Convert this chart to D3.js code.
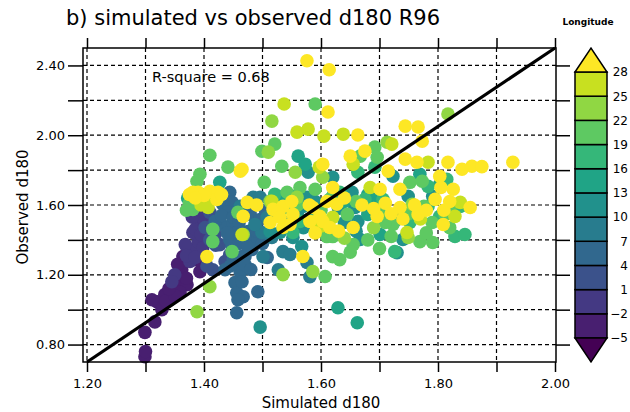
<!DOCTYPE html>
<html lang="en">
<head>
    <meta charset="UTF-8">
    <title>simulated vs observed d180 R96</title>
    <script src="https://d3js.org/d3.v7.min.js"></script>
    <style>
        body { margin: 0; background: #fff; }
        svg { display: block; font-family: "DejaVu Sans", sans-serif; }
    </style>
</head>
<body>
    <svg id="chart" width="630" height="412"></svg>

    <script>
        // Colour levels of the longitude bar
        const lonLevels = [-5, -2, 1, 4, 7, 10, 13, 16, 19, 22, 25, 28];

        // Points [simulated, observed], grouped by longitude band
        const lon_m3 = [[1.299,0.73],[1.30,0.76],[1.299,0.87],[1.316,0.93],[1.32,1.045],[1.328,1.00],[1.342,1.057],
            [1.311,1.057],[1.359,1.155],[1.371,1.143],[1.362,1.229],[1.393,1.218],[1.364,1.304],[1.388,1.287],
            [1.359,1.10],[1.333,1.086],[1.335,1.05],[1.35,1.08],[1.34,1.12],[1.37,1.18],[1.355,1.26]];
        const lon_0 = [[1.38,1.345],[1.39,1.39],[1.381,1.442],[1.39,1.506],[1.368,1.373],[1.385,1.46],[1.376,1.276],
            [1.398,1.356],[1.393,1.546],[1.385,1.575],[1.40,1.47],[1.395,1.43],[1.37,1.31],[1.385,1.30],
            [1.40,1.52],[1.38,1.53],[1.35,1.20],[1.345,1.16]];
        const lon_2 = [[1.41,1.402],[1.402,1.471],[1.419,1.431],[1.41,1.558],[1.427,1.373],[1.436,1.276],[1.415,1.229],
            [1.444,1.316],[1.42,1.37],[1.405,1.25]];
        const lon_5 = [[1.444,1.673],[1.432,1.604],[1.448,1.615],[1.441,1.558],[1.441,1.477],[1.458,1.448],[1.475,1.448],
            [1.448,1.362],[1.465,1.304],[1.47,1.304],[1.456,1.27],[1.462,1.212],[1.453,1.155],[1.456,1.097],
            [1.467,1.074],[1.458,1.057],[1.492,1.103],[1.456,0.982],[1.482,1.345],[1.47,1.258],[1.444,1.402],
            [1.427,1.488],[1.479,1.546],[1.496,1.517],[1.487,1.402],[1.508,1.299],[1.436,1.229],[1.419,1.506],
            [1.43,1.54],[1.45,1.53],[1.46,1.50],[1.47,1.42],[1.49,1.45],[1.44,1.44],[1.46,1.38],[1.45,1.29],
            [1.475,1.36],[1.465,1.16],[1.48,1.23],[1.445,1.25],[1.50,1.38],[1.505,1.57]];
        const lon_8 = [[1.484,1.644],[1.496,1.644],[1.508,1.529],[1.499,1.442],[1.516,1.414],[1.501,1.304],[1.527,1.229],
            [1.535,1.333],[1.547,1.316],[1.576,1.27],[1.581,1.189],[1.487,1.488],[1.462,1.592]];
        const lon_11 = [[1.496,0.90],[1.567,1.362],[1.53,1.442],[1.552,1.414],[1.513,1.448],[1.578,1.788],[1.569,1.592],
            [1.576,1.644],[1.658,1.586],[1.653,1.673],[1.667,1.402],[1.663,1.506],[1.723,1.765],[1.749,1.65],
            [1.791,1.65],[1.73,1.517],[1.73,1.327],[1.74,1.402],[1.62,1.759],[1.526,1.65],[1.52,1.55],[1.54,1.50],
            [1.56,1.56],[1.59,1.62],[1.57,1.47],[1.60,1.45],[1.63,1.58],[1.64,1.50],[1.66,1.45]];
        const lon_14 = [[1.629,1.011],[1.662,0.925],[1.538,1.615],[1.55,1.65],[1.427,1.73],[1.692,1.632],[1.68,1.546],
            [1.803,1.719],[1.769,1.776],[1.701,1.431],[1.561,1.88],[1.573,1.834],[1.58,1.52],[1.62,1.65],
            [1.64,1.62],[1.68,1.66],[1.372,1.64]];
        const lon_17 = [[1.542,1.586],[1.564,1.506],[1.552,1.442],[1.632,1.673],[1.706,1.632],[1.726,1.333],[1.692,1.817],
            [1.663,1.788],[1.783,1.707],[1.838,1.592],[1.783,1.592],[1.752,1.50],[1.803,1.535],[1.815,1.747],
            [1.829,1.42],[1.846,1.431],[1.521,1.661],[1.675,1.632]];
        const lon_20 = [[1.393,1.776],[1.388,1.736],[1.381,1.575],[1.415,1.46],[1.415,1.39],[1.441,1.817],[1.41,1.885],
            [1.499,1.908],[1.59,2.179],[1.521,1.949],[1.533,1.822],[1.542,1.673],[1.564,1.70],[1.61,1.419],
            [1.62,1.419],[1.607,1.19],[1.62,1.304],[1.632,1.287],[1.655,1.373],[1.692,1.932],[1.696,1.874],
            [1.667,1.88],[1.752,1.73],[1.773,1.736],[1.776,1.592],[1.821,1.586],[1.791,1.385],[1.769,1.39],
            [1.723,1.488],[1.645,1.546],[1.458,1.558],[1.448,1.333],[1.503,1.73],[1.59,1.69],[1.615,1.632],
            [1.812,1.546],[1.375,1.61],[1.37,1.57],[1.56,1.60],[1.60,1.57],[1.66,1.62],[1.70,1.56],[1.71,1.50],
            [1.72,1.42],[1.68,1.40],[1.65,1.33],[1.70,1.35],[1.75,1.55],[1.79,1.50],[1.78,1.44],[1.82,1.47]];
        const lon_23 = [[1.51,1.903],[1.516,2.081],[1.713,1.96],[1.513,1.621],[1.535,1.201],[1.586,1.218],[1.603,1.759],
            [1.559,1.644],[1.467,1.431],[1.41,1.132],[1.388,0.988],[1.756,1.604],[1.749,1.414],[1.817,2.122],
            [1.556,1.788],[1.69,1.47],[1.64,1.41]];
        const lon_26 = [[1.537,2.179],[1.559,2.018],[1.578,2.035],[1.605,1.995],[1.638,2.006],[1.405,1.621],[1.407,1.586],
            [1.465,1.431],[1.516,1.621],[1.62,1.529],[1.684,1.70],[1.721,1.949],[1.783,1.845],[1.838,1.615],
            [1.829,1.535],[1.747,1.442],[1.655,1.834],[1.597,1.817],[1.395,1.60],[1.77,1.52],[1.60,1.48]];
        const lon_30 = [[1.576,2.427],[1.614,2.375],[1.612,2.133],[1.663,2.001],[1.465,1.805],[1.381,1.673],[1.41,1.678],
            [1.424,1.673],[1.39,1.673],[1.422,1.632],[1.474,1.615],[1.518,1.575],[1.535,1.592],[1.552,1.546],
            [1.467,1.535],[1.405,1.304],[1.527,1.558],[1.513,1.50],[1.462,1.794],[1.569,1.305],[1.655,1.471],
            [1.696,1.535],[1.701,1.69],[1.627,1.604],[1.586,1.586],[1.598,1.535],[1.603,1.506],[1.615,1.471],
            [1.581,1.506],[1.547,1.488],[1.535,1.471],[1.603,1.834],[1.65,1.88],[1.675,1.909],[1.715,1.794],
            [1.744,2.052],[1.766,2.047],[1.773,1.966],[1.744,1.863],[1.764,1.845],[1.817,1.845],[1.858,1.822],
            [1.841,1.805],[1.928,1.845],[1.803,1.765],[1.735,1.69],[1.805,1.70],[1.826,1.69],[1.855,1.586],
            [1.735,1.586],[1.766,1.546],[1.809,1.488],[1.795,1.632],[1.375,1.66],[1.40,1.655],[1.43,1.66],
            [1.385,1.64],[1.55,1.62],[1.58,1.60],[1.61,1.62],[1.64,1.64],[1.67,1.60],[1.69,1.58],[1.71,1.61],
            [1.72,1.55],[1.74,1.52],[1.76,1.60],[1.78,1.57],[1.81,1.57],[1.82,1.62],[1.63,1.45],[1.59,1.44],
            [1.62,1.70],[1.53,1.53],[1.49,1.60],[1.875,1.82]];

        const groups = [
            {lon: -3, pts: lon_m3}, {lon: 0, pts: lon_0}, {lon: 2, pts: lon_2}, {lon: 5, pts: lon_5},
            {lon: 8, pts: lon_8}, {lon: 11, pts: lon_11}, {lon: 14, pts: lon_14}, {lon: 17, pts: lon_17},
            {lon: 20, pts: lon_20}, {lon: 23, pts: lon_23}, {lon: 26, pts: lon_26}, {lon: 30, pts: lon_30}
        ];

        const rSquare = "0.68";
        const xTicks = [1.2, 1.3, 1.4, 1.5, 1.6, 1.7, 1.8, 1.9, 2.0];
        const yTicks = [0.8, 1.0, 1.2, 1.4, 1.6, 1.8, 2.0, 2.2, 2.4];

        const svg = d3.select("#chart");

        const x = d3.scaleLinear().domain([1.2, 2.0]).range([87, 555]);
        const y = d3.scaleLinear().domain([0.7, 2.5]).range([362, 48]);
        const frame = {left: 83, right: 556, top: 48, bottom: 362};

        // 13 colours: 11 boxes plus two end triangles
        const colors = d3.range(13).map(i => d3.interpolateViridis(i / 12));
        const color = d3.scaleThreshold().domain(lonLevels).range(colors);

        // Grid
        svg.append("g").selectAll("line")
            .data(xTicks.slice(0, -1))
            .join("line")
            .attr("x1", d => x(d)).attr("x2", d => x(d))
            .attr("y1", frame.top).attr("y2", frame.bottom)
            .attr("stroke", "#000").attr("stroke-width", 1.2).attr("stroke-dasharray", "4,3");
        svg.append("g").selectAll("line")
            .data(yTicks)
            .join("line")
            .attr("x1", frame.left).attr("x2", frame.right)
            .attr("y1", d => y(d)).attr("y2", d => y(d))
            .attr("stroke", "#000").attr("stroke-width", 1.2).attr("stroke-dasharray", "4,3");

        // Points
        const points = groups.flatMap(g => g.pts.map(p => ({sim: p[0], obs: p[1], lon: g.lon})));
        svg.append("g").selectAll("circle")
            .data(points)
            .join("circle")
            .attr("cx", d => x(d.sim))
            .attr("cy", d => y(d.obs))
            .attr("r", 6.8)
            .attr("fill", d => color(d.lon));

        // Reference line
        svg.append("line")
            .attr("x1", x(1.2)).attr("y1", y(0.7))
            .attr("x2", x(2.0)).attr("y2", y(2.5))
            .attr("stroke", "#000").attr("stroke-width", 3.2);

        // Axes
        const fmt = d => (Math.round(d * 10) % 2 === 0 ? d.toFixed(2) : "");
        const fmtY = d => (Math.round(d * 10) % 4 === 0 ? d.toFixed(2) : "");

        svg.append("g")
            .attr("transform", `translate(0,${frame.bottom})`)
            .call(d3.axisBottom(x).tickValues(xTicks).tickSize(10).tickPadding(7).tickFormat(fmt));
        svg.append("g")
            .attr("transform", `translate(0,${frame.top})`)
            .call(d3.axisTop(x).tickValues(xTicks).tickSize(10).tickFormat(""));
        svg.append("g")
            .attr("transform", `translate(${frame.left},0)`)
            .call(d3.axisLeft(y).tickValues(yTicks).tickSize(15).tickPadding(3).tickFormat(fmtY));
        svg.append("g")
            .attr("transform", `translate(${frame.right},0)`)
            .call(d3.axisRight(y).tickValues(yTicks).tickSize(14).tickFormat(""));

        svg.selectAll(".domain").remove();
        svg.selectAll(".tick line").attr("stroke", "#000").attr("stroke-width", 1.5);
        svg.selectAll(".tick text")
            .attr("fill", "#000")
            .style("font-family", "DejaVu Sans")
            .style("font-size", "13px");

        svg.append("rect")
            .attr("x", frame.left).attr("y", frame.top)
            .attr("width", frame.right - frame.left).attr("height", frame.bottom - frame.top)
            .attr("fill", "none").attr("stroke", "#000").attr("stroke-width", 1.5);

        // Texts
        svg.append("text")
            .attr("x", 66).attr("y", 25)
            .style("font-size", "21px")
            .text("b) simulated vs observed d180 R96");
        svg.append("text")
            .attr("x", 152).attr("y", 82)
            .style("font-size", "14.5px")
            .text("R-square = " + rSquare);
        svg.append("text")
            .attr("x", 321).attr("y", 408)
            .attr("text-anchor", "middle")
            .style("font-size", "15px")
            .text("Simulated d180");
        svg.append("text")
            .attr("transform", "translate(28,207) rotate(-90)")
            .attr("text-anchor", "middle")
            .style("font-size", "15px")
            .text("Observed d180");

        // Colour bar
        const cb = {x0: 575, x1: 607, tip: 24};
        const cbY = d3.scaleLinear().domain([-5, 28]).range([338, 72]);
        const cbMid = (cb.x0 + cb.x1) / 2;
        const bar = svg.append("g");
        bar.selectAll("rect")
            .data(d3.range(lonLevels.length - 1))
            .join("rect")
            .attr("x", cb.x0)
            .attr("y", i => cbY(lonLevels[i + 1]))
            .attr("width", cb.x1 - cb.x0)
            .attr("height", i => cbY(lonLevels[i]) - cbY(lonLevels[i + 1]))
            .attr("fill", i => colors[i + 1])
            .attr("stroke", "#000").attr("stroke-width", 1.5);
        bar.append("path")
            .attr("d", `M${cb.x0},${cbY(28)}L${cbMid},${cbY(28) - cb.tip}L${cb.x1},${cbY(28)}Z`)
            .attr("fill", colors[12]).attr("stroke", "#000").attr("stroke-width", 1.5);
        bar.append("path")
            .attr("d", `M${cb.x0},${cbY(-5)}L${cbMid},${cbY(-5) + cb.tip}L${cb.x1},${cbY(-5)}Z`)
            .attr("fill", colors[0]).attr("stroke", "#000").attr("stroke-width", 1.5);
        bar.selectAll("text")
            .data(lonLevels)
            .join("text")
            .attr("x", 628)
            .attr("y", d => cbY(d))
            .attr("dy", "0.36em")
            .attr("text-anchor", "end")
            .style("font-size", "12px")
            .text(d => d < 0 ? "\u2212" + Math.abs(d) : d);
        bar.append("text")
            .attr("x", 588).attr("y", 25)
            .attr("text-anchor", "middle")
            .style("font-size", "9px").style("font-weight", "bold")
            .text("Longitude");
    </script>
</body>
</html>
